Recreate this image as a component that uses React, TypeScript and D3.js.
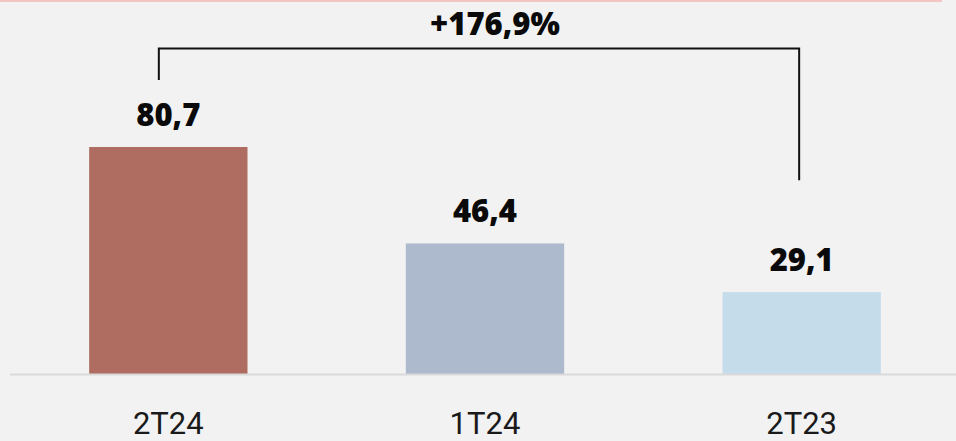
import React, { useEffect, useRef } from 'react';
import * as d3 from 'd3';

const categories = ['2T24', '1T24', '2T23'];
const values = [80.7, 46.4, 29.1];
const valueLabels = ['80,7', '46,4', '29,1'];
const barColors = ['#ae6d60', '#adb9cc', '#c5dcea'];
const changeLabel = '+176,9%';

const App = () => {
    const ref = useRef<SVGSVGElement>(null);

    useEffect(() => {
        const svgWidth = 956, svgHeight = 441;
        const baseY = 374;
        const svg = d3.select(ref.current);
        svg.selectAll('*').remove();

        svg.append('rect')
            .attr('width', svgWidth)
            .attr('height', svgHeight)
            .attr('fill', '#f2f2f2');

        // pink strip at the top
        svg.append('rect')
            .attr('x', 0).attr('y', 0)
            .attr('width', 942).attr('height', 2)
            .attr('fill', '#f3c6c4');

        const x = d3.scaleBand()
            .domain(categories)
            .range([10, 960])
            .paddingInner(0.5)
            .paddingOuter(0.25);

        const y = d3.scaleLinear()
            .domain([0, 80.7])
            .range([baseY, 147]);

        svg.selectAll('.bar')
            .data(values)
            .enter().append('rect')
            .attr('x', (d, i) => x(categories[i])!)
            .attr('y', d => y(d))
            .attr('width', x.bandwidth())
            .attr('height', d => baseY - y(d))
            .attr('fill', (d, i) => barColors[i]);

        // baseline
        svg.append('line')
            .attr('x1', 10).attr('x2', svgWidth)
            .attr('y1', baseY + 0.5).attr('y2', baseY + 0.5)
            .attr('stroke', '#d9d9d9')
            .attr('stroke-width', 2);

        svg.selectAll('.val')
            .data(values)
            .enter().append('text')
            .attr('x', (d, i) => x(categories[i])! + x.bandwidth() / 2)
            .attr('y', d => y(d) - 21)
            .attr('text-anchor', 'middle')
            .style('font-family', '"Open Sans", sans-serif')
            .style('font-weight', 800)
            .style('font-size', '31px')
            .attr('fill', '#0a0a0a')
            .text((d, i) => valueLabels[i]);

        svg.selectAll('.cat')
            .data(categories)
            .enter().append('text')
            .attr('x', d => x(d)! + x.bandwidth() / 2)
            .attr('y', 434)
            .attr('text-anchor', 'middle')
            .style('font-family', 'Roboto, sans-serif')
            .style('font-size', '31px')
            .attr('fill', '#1a1a1a')
            .text(d => d);

        // bracket between first and last bar
        const lx = x(categories[0])! + x.bandwidth() / 2 - 9.5;
        const rx = x(categories[2])! + x.bandwidth() / 2 - 2.5;
        const topY = 48.5;
        const path = d3.path();
        path.moveTo(lx, y(values[0]) - 67);
        path.lineTo(lx, topY);
        path.lineTo(rx, topY);
        path.lineTo(rx, y(values[2]) - 112);
        svg.append('path')
            .attr('d', path.toString())
            .attr('fill', 'none')
            .attr('stroke', '#111')
            .attr('stroke-width', 2);

        svg.append('text')
            .attr('x', 495)
            .attr('y', 35)
            .attr('text-anchor', 'middle')
            .style('font-family', '"Open Sans", sans-serif')
            .style('font-weight', 800)
            .style('font-size', '31px')
            .attr('fill', '#0a0a0a')
            .text(changeLabel);
    }, []);

    return (
        <svg ref={ref} width={956} height={441}
            style={{ position: 'absolute', left: 0, top: 0, display: 'block' }} />
    );
};

export default App;
